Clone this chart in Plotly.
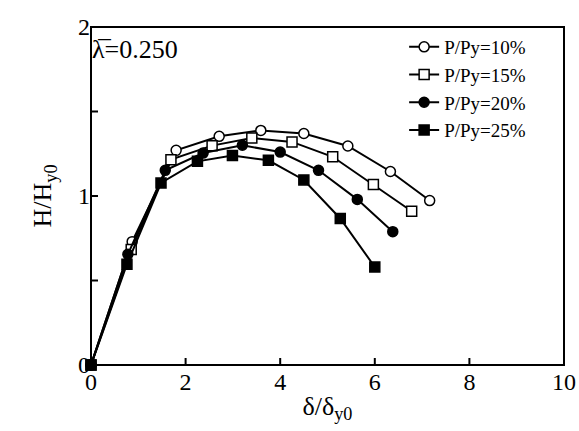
import plotly.graph_objects as go

names = ["P/Py=10%", "P/Py=15%", "P/Py=20%", "P/Py=25%"]
x10 = [0, 0.87, 1.80, 2.71, 3.59, 4.50, 5.43, 6.33, 7.16]
y10 = [0, 0.73, 1.27, 1.353, 1.388, 1.37, 1.296, 1.145, 0.973]
x15 = [0, 0.85, 1.69, 2.56, 3.40, 4.25, 5.11, 5.97, 6.78]
y15 = [0, 0.684, 1.215, 1.298, 1.343, 1.32, 1.232, 1.068, 0.91]
x20 = [0, 0.78, 1.57, 2.37, 3.20, 4.00, 4.81, 5.63, 6.38]
y20 = [0, 0.655, 1.152, 1.254, 1.30, 1.26, 1.152, 0.98, 0.789]
x25 = [0, 0.76, 1.48, 2.25, 2.99, 3.75, 4.50, 5.27, 6.0]
y25 = [0, 0.596, 1.077, 1.205, 1.239, 1.211, 1.095, 0.867, 0.58]
xs = [x10, x15, x20, x25]
ys = [y10, y15, y20, y25]
symbols = ["circle", "square", "circle", "square"]
fills = ["white", "white", "black", "black"]

x_range = [0, 10]
y_range = [0, 2]
y_tickvals = [0, 0.5, 1, 1.5, 2]
y_ticktext = ["0", "", "1", "", "2"]
x_tickvals = [0, 2, 4, 6, 8, 10]

FONT = "Liberation Serif"

W, H = 579, 431
M = dict(l=91, r=15, t=27, b=66)
TICK_PX = 7

fig = go.Figure()

# inside tick marks as a line trace, positioned from the tick values and axis ranges
plot_w = W - M["l"] - M["r"]
plot_h = H - M["t"] - M["b"]
xlen = TICK_PX / plot_h * (y_range[1] - y_range[0])   # x-tick length in y units
ylen = TICK_PX / plot_w * (x_range[1] - x_range[0])   # y-tick length in x units
tx, ty = [], []
for v in x_tickvals[1:-1]:
    tx += [v, v, None]
    ty += [y_range[0], y_range[0] + xlen, None]
for v in y_tickvals[1:-1]:
    tx += [x_range[0], x_range[0] + ylen, None]
    ty += [v, v, None]
fig.add_trace(go.Scatter(x=tx, y=ty, mode="lines", line=dict(color="black", width=2),
                         showlegend=False, hoverinfo="skip", cliponaxis=False))

for n, x, y, s, f in zip(names, xs, ys, symbols, fills):
    fig.add_trace(go.Scatter(
        x=x, y=y, name=n, mode="lines+markers",
        line=dict(color="black", width=2),
        marker=dict(symbol=s, size=10, color=f, line=dict(color="black", width=1.5)),
        cliponaxis=False,
    ))

axis_common = dict(ticks="", showgrid=False, zeroline=False, showline=False,
                   automargin=False,
                   tickfont=dict(size=24, family=FONT, color="black"))

fig.update_layout(
    width=W, height=H,
    margin=M,
    paper_bgcolor="white", plot_bgcolor="white",
    font=dict(family=FONT, color="black", size=20),
    showlegend=True,
    legend=dict(x=0.662, y=0.997, xanchor="left", yanchor="top",
                bgcolor="rgba(0,0,0,0)", font=dict(size=19, family=FONT, color="black"),
                itemwidth=30, tracegroupgap=0),
    xaxis=dict(range=x_range, tickvals=x_tickvals, **axis_common,
               title=dict(text="δ/δ<sub>y0</sub>", font=dict(size=26, family=FONT, color="black"), standoff=2)),
    yaxis=dict(range=y_range, tickvals=y_tickvals, ticktext=y_ticktext, **axis_common,
               title=dict(text="H/H<sub>y0</sub>", font=dict(size=26, family=FONT, color="black"), standoff=18)),
    shapes=[dict(type="rect", xref="paper", yref="paper", x0=0, y0=0, x1=1, y1=1,
                 line=dict(color="black", width=2), layer="above")],
    annotations=[dict(text="λ\u0305=0.250", xref="paper", yref="paper", x=-0.003, y=0.982,
                      xanchor="left", yanchor="top", showarrow=False,
                      font=dict(size=26, family=FONT, color="black"))],
)

fig.write_html("out.html", config={"displayModeBar": False},
               post_script="document.body.style.margin='0';")
